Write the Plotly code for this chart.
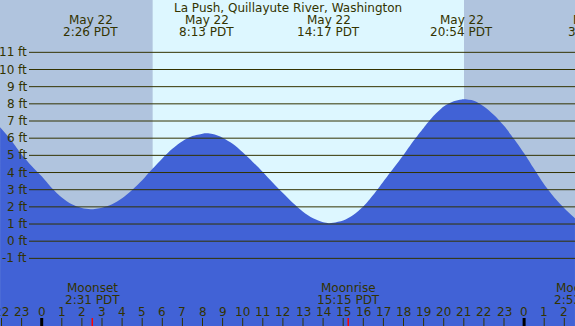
import plotly.graph_objects as go

# ---------------- data ----------------
TITLE = "La Push, Quillayute River, Washington"

# tide height (ft) vs hours since midnight May 22 (PDT)
tide_hours = [-2.07, -1.5, -1, -0.5, 0, 0.5, 1, 1.5, 2, 2.43, 3, 3.5, 4, 4.5, 5, 5.5, 6,
              6.5, 7, 7.5, 8, 8.22, 8.5, 9, 9.5, 10, 10.5, 11, 11.5, 12, 12.5, 13, 13.5,
              14, 14.28, 14.5, 15, 15.5, 16, 16.5, 17, 17.5, 18, 18.5, 19, 19.5, 20,
              20.5, 20.9, 21.5, 22, 22.5, 23, 23.5, 24, 24.5, 25, 25.5, 26, 26.53]
tide_ft = [6.63, 5.85, 5.05, 4.38, 3.78, 3.1, 2.55, 2.15, 1.93, 1.86, 1.95, 2.15, 2.5,
           2.98, 3.55, 4.2, 4.82, 5.38, 5.82, 6.12, 6.26, 6.28, 6.24, 6.03, 5.67, 5.18,
           4.62, 4.03, 3.4, 2.8, 2.22, 1.72, 1.33, 1.1, 1.05, 1.07, 1.2, 1.53, 2.02,
           2.7, 3.48, 4.25, 5.02, 5.85, 6.6, 7.3, 7.85, 8.15, 8.26, 8.18, 7.85, 7.35,
           6.72, 5.95, 5.12, 4.2, 3.3, 2.55, 1.92, 1.33]

# tide extremes labels (top)
ext_hours = [2.433, 8.217, 14.283, 20.9, 27.55]
ext_dates = ["May 22", "May 22", "May 22", "May 22", "May 23"]
ext_times = ["2:26 PDT", "8:13 PDT", "14:17 PDT", "20:54 PDT", "3:33 PDT"]

# moon events (bottom)
moon_hours = [2.517, 15.25, 26.88]
moon_names = ["Moonset", "Moonrise", "Moonset"]
moon_times = ["2:31 PDT", "15:15 PDT", "2:53 PDT"]

# sun
sunrise_hour = 5.52
sunset_hour = 21.01

# axis ticks
level_ft = [-1, 0, 1, 2, 3, 4, 5, 6, 7, 8, 9, 10, 11]
level_labels = ["-1 ft", "0 ft", "1 ft", "2 ft", "3 ft", "4 ft", "5 ft", "6 ft",
                "7 ft", "8 ft", "9 ft", "10 ft", "11 ft"]
hour_ticks = [-2, -1, 0, 1, 2, 3, 4, 5, 6, 7, 8, 9, 10, 11, 12, 13, 14, 15, 16, 17,
              18, 19, 20, 21, 22, 23, 24, 25, 26]
hour_labels = ["22", "23", "0", "1", "2", "3", "4", "5", "6", "7", "8", "9", "10",
               "11", "12", "13", "14", "15", "16", "17", "18", "19", "20", "21",
               "22", "23", "0", "1", "2"]
midnights = [0, 24]

# ---------------- styling ----------------
W, H = 575, 326
X_RANGE = [-2.0746, 26.532]
Y_RANGE = [-4.939, 14.048]
NIGHT = "#B0C4DE"
DAY = "#DDF7FF"
WATER = "#4162D6"
INK = "#333300"
FONT = "DejaVu Sans"


def py(px):
    """pixel row from top -> paper y"""
    return 1 - px / H


def xpos(h):
    """annotation x: data coords inside the axis range, paper coords beyond it
    (plotly hides data-anchored annotations outside the range)."""
    if X_RANGE[0] <= h <= X_RANGE[1]:
        return "x", h
    return "paper", (h - X_RANGE[0]) / (X_RANGE[1] - X_RANGE[0])


fig = go.Figure()

# baseline for the water fill (bottom of the axis)
fig.add_trace(go.Scatter(x=[tide_hours[0], tide_hours[-1]], y=[Y_RANGE[0]] * 2,
                         mode="lines", line=dict(width=0), hoverinfo="skip",
                         showlegend=False))
fig.add_trace(go.Scatter(x=tide_hours, y=tide_ft, mode="lines",
                         line=dict(width=0, shape="spline", smoothing=0.8, color=WATER),
                         fill="tonexty", fillcolor=WATER, showlegend=False))

shapes = []
# daylight band
shapes.append(dict(type="rect", xref="x", yref="paper", x0=sunrise_hour, x1=sunset_hour,
                   y0=0, y1=1, fillcolor=DAY, line=dict(width=0), layer="below"))
# level lines
for v in level_ft:
    shapes.append(dict(type="line", xref="paper", yref="y", x0=29 / W, x1=1, y0=v, y1=v,
                       line=dict(color=INK, width=1), layer="above"))
# hour ticks
for h in hour_ticks:
    if h in midnights:
        shapes.append(dict(type="line", xref="x", yref="paper", x0=h, x1=h,
                           y0=0, y1=8 / H, line=dict(color="#000000", width=3),
                           layer="above"))
    else:
        shapes.append(dict(type="line", xref="x", yref="paper", x0=h, x1=h,
                           y0=0, y1=8 / H, line=dict(color=INK, width=1),
                           layer="above"))
# moon event ticks
for h in moon_hours:
    shapes.append(dict(type="line", xref="x", yref="paper", x0=h, x1=h,
                       y0=0, y1=8 / H, line=dict(color="#FF0000", width=1.5),
                       layer="above"))

ann = []
fnt = dict(family=FONT, size=12, color=INK)
ann.append(dict(text=TITLE, xref="paper", yref="paper", x=287.5 / W, y=py(8),
                xanchor="center", yanchor="middle", showarrow=False, font=fnt))
for h, d, t in zip(ext_hours, ext_dates, ext_times):
    xr, xv = xpos(h)
    ann.append(dict(text=d, xref=xr, yref="paper", x=xv, y=py(20), xanchor="center",
                    yanchor="middle", showarrow=False, font=fnt))
    ann.append(dict(text=t, xref=xr, yref="paper", x=xv, y=py(32), xanchor="center",
                    yanchor="middle", showarrow=False, font=fnt))
for h, n, t in zip(moon_hours, moon_names, moon_times):
    xr, xv = xpos(h)
    ann.append(dict(text=n, xref=xr, yref="paper", x=xv, y=py(288), xanchor="center",
                    yanchor="middle", showarrow=False, font=fnt))
    ann.append(dict(text=t, xref=xr, yref="paper", x=xv, y=py(300), xanchor="center",
                    yanchor="middle", showarrow=False, font=fnt))
for v, lab in zip(level_ft, level_labels):
    ann.append(dict(text=lab, xref="paper", yref="y", x=28.5 / W, y=v, xanchor="right",
                    yanchor="middle", showarrow=False, font=fnt))
for h, lab in zip(hour_ticks, hour_labels):
    ann.append(dict(text=lab, xref="x", yref="paper", x=h, y=py(312), xanchor="center",
                    yanchor="middle", showarrow=False, font=fnt))

fig.update_layout(
    width=W, height=H, margin=dict(l=0, r=0, t=0, b=0),
    paper_bgcolor=NIGHT, plot_bgcolor=NIGHT,
    xaxis=dict(range=X_RANGE, visible=False, fixedrange=True),
    yaxis=dict(range=Y_RANGE, visible=False, fixedrange=True),
    shapes=shapes, annotations=ann, showlegend=False,
)

fig.write_html("out.html", config={"displayModeBar": False},
               post_script="document.body.style.margin='0';document.body.style.overflow='hidden';")
